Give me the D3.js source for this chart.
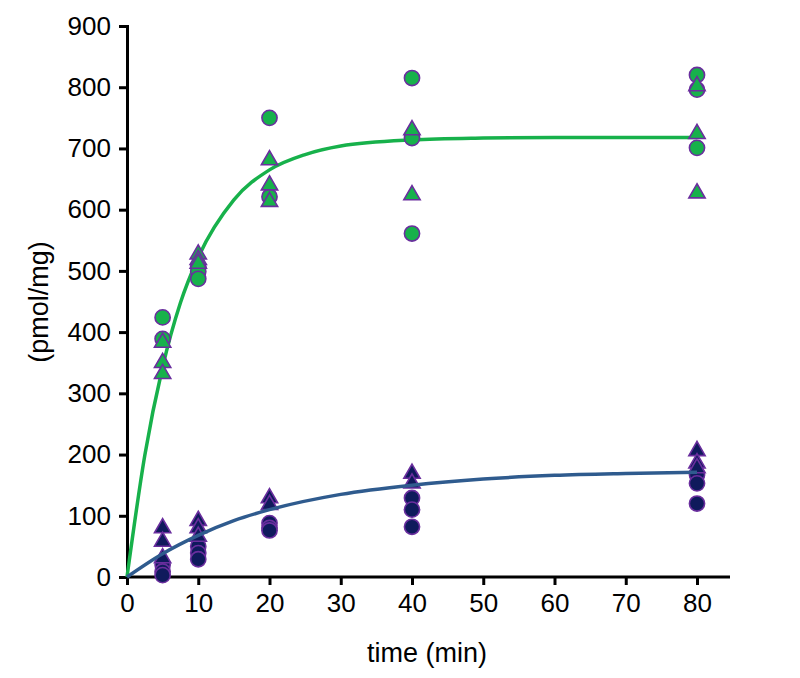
<!DOCTYPE html>
<html><head><meta charset="utf-8">
<script src="https://cdn.jsdelivr.net/npm/d3@7"></script>
<style>body{margin:0;background:#fff;} text{font-family:"Liberation Sans",Arial,sans-serif;}</style>
</head><body><svg id="c" width="800" height="678"></svg>
<script>
// Data
const xTicks = [0,10,20,30,40,50,60,70,80];
const yTicks = [0,100,200,300,400,500,600,700,800,900];
const greenCircles = [[5,424],[5,389],[10,507],[10,499],[10,487],[20,750],[20,621],[40,815],[40,717],[40,561],[80,820],[80,796],[80,701]];
const greenTriangles = [[5,383],[5,350],[5,332],[10,527],[10,518],[10,512],[20,681],[20,640],[20,613],[40,730],[40,624],[80,802],[80,724],[80,627]];
const navyCircles = [[5,20],[5,9],[5,3],[10,50],[10,39],[10,29],[20,88],[20,80],[20,76],[40,129],[40,110],[40,82],[80,167],[80,153],[80,120]];
const navyTriangles = [[5,80],[5,58],[5,31],[10,92],[10,80],[10,66],[20,129],[20,118],[40,169],[40,153],[80,206],[80,186],[80,178]];
const greenCurve = [[0,0],[2.5,199],[5,343],[7.5,448],[10,522],[15,616],[20,665],[25,690],[30,704],[40,714],[50,717],[60,718],[70,718],[80,718]];
const navyCurve = [[0,0],[5,38],[10,68],[15,92],[20,110],[30,135],[40,150],[50,160],[60,166],[70,169],[80,171]];

const svg = d3.select("#c");
const x = d3.scaleLinear().domain([0,80]).range([127,697]);
const y = d3.scaleLinear().domain([0,900]).range([577,26]);
const xEnd = 730;

const green = "#17b14b", navy = "#0f1a5c", stroke = "#6a2e9e";

// axes
const gx = svg.append("g").attr("transform","translate(0,577)")
  .call(d3.axisBottom(x).tickValues(xTicks).tickSize(8).tickPadding(9).tickFormat(d3.format("d")));
gx.select(".domain").attr("d",`M${x(0)},0H${xEnd}`);
const gy = svg.append("g").attr("transform","translate(127,0)")
  .call(d3.axisLeft(y).tickValues(yTicks).tickSize(8).tickPadding(8).tickFormat(d3.format("d")));
[gx,gy].forEach(g=>{
  g.select(".domain").attr("stroke","#000").attr("stroke-width",3);
  g.selectAll(".tick line").attr("stroke","#000").attr("stroke-width",3);
  g.selectAll(".tick text").attr("fill","#000").style("font-size","26px");
});

svg.append("text").attr("x",427).attr("y",662).attr("text-anchor","middle")
  .style("font-size","27px").text("time (min)");
svg.append("text").attr("transform","translate(48,302) rotate(-90)").attr("text-anchor","middle")
  .style("font-size","27px").text("(pmol/mg)");

const line = d3.line().x(d=>x(d[0])).y(d=>y(d[1])).curve(d3.curveMonotoneX);
svg.append("path").datum(greenCurve).attr("d",line).attr("fill","none").attr("stroke",green).attr("stroke-width",3.5);

const tri = d3.symbol().type(d3.symbolTriangle).size(115);
function circles(data, fill){
  svg.append("g").selectAll("circle").data(data).join("circle")
    .attr("cx",d=>x(d[0])).attr("cy",d=>y(d[1])).attr("r",7.6)
    .attr("fill",fill).attr("stroke",stroke).attr("stroke-width",1.6);
}
function triangles(data, fill){
  svg.append("g").selectAll("path").data(data).join("path")
    .attr("d",tri).attr("transform",d=>`translate(${x(d[0])},${y(d[1])})`)
    .attr("fill",fill).attr("stroke",stroke).attr("stroke-width",1.6);
}
circles(greenCircles, green);
triangles(greenTriangles, green);
circles(navyCircles, navy);
triangles(navyTriangles, navy);
svg.append("path").datum(navyCurve).attr("d",line).attr("fill","none").attr("stroke","#2f5b8e").attr("stroke-width",3.5);
</script></body></html>
